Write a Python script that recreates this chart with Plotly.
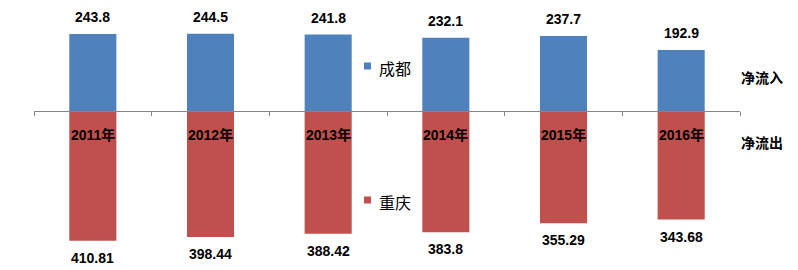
import plotly.graph_objects as go

years = ["2011年", "2012年", "2013年", "2014年", "2015年", "2016年"]
chengdu = [243.8, 244.5, 241.8, 232.1, 237.7, 192.9]
chongqing = [410.81, 398.44, 388.42, 383.8, 355.29, 343.68]
series_names = ["成都", "重庆"]
side_labels = ["净流入", "净流出"]

BLUE = "#4F81BD"
RED = "#C0504D"
NUM_FONT = dict(family="Liberation Sans, Arial, sans-serif", size=14, color="black")
CJK = "Noto Sans CJK SC"

W, H, L, R = 798, 270, 34, 58
PW = W - L - R


def px_x(p):
    return (p - L) / PW


def px_y(p):
    return (H - p) / H


fig = go.Figure()
fig.add_trace(go.Bar(x=years, y=chengdu, name=series_names[0], marker_color=BLUE,
                     marker_line_width=0, showlegend=False))
fig.add_trace(go.Bar(x=years, y=[-v for v in chongqing], name=series_names[1],
                     marker_color=RED, marker_line_width=0, showlegend=False))

ann = []
for x, v in zip(years, chengdu):
    ann.append(dict(x=x, y=v, text=f"<b>{v}</b>", showarrow=False, yshift=17,
                    yanchor="middle", font=NUM_FONT))
for x, v in zip(years, chongqing):
    ann.append(dict(x=x, y=-v, text=f"<b>{v}</b>", showarrow=False, yshift=-17,
                    yanchor="middle", font=NUM_FONT))
for x in years:
    ann.append(dict(x=x, y=0, text=f"<b>{x}</b>", showarrow=False, yshift=-24,
                    yanchor="middle",
                    font=dict(family=f"Liberation Sans, {CJK}", size=14, color="black")))
for lbl, yc in zip(side_labels, [77, 142]):
    ann.append(dict(xref="paper", yref="paper", x=px_x(761.5), y=px_y(yc),
                    text=f"<b>{lbl}</b>", showarrow=False, xanchor="center",
                    yanchor="middle", font=dict(family=CJK, size=14, color="black")))

# legend (swatch + name)
shapes = []
for name, col, yc in zip(series_names, [BLUE, RED], [66, 200]):
    shapes.append(dict(type="rect", xref="paper", yref="paper",
                       x0=px_x(364), x1=px_x(371), y0=px_y(yc + 3.5), y1=px_y(yc - 3.5),
                       fillcolor=col, line_width=0))
    ann.append(dict(xref="paper", yref="paper", x=px_x(377), y=px_y(yc + 2),
                    text=name, showarrow=False, xanchor="left", yanchor="middle",
                    font=dict(family=CJK, size=16, color="black")))

fig.update_layout(
    width=W, height=H,
    margin=dict(l=L, r=R, t=0, b=0),
    barmode="relative",
    bargap=0.6,
    plot_bgcolor="white", paper_bgcolor="white",
    showlegend=False,
    xaxis=dict(anchor="free", position=(H - 111) / H, showline=True,
               linecolor="#868686", linewidth=1, ticks="outside", tickson="boundaries",
               ticklen=4, tickcolor="#868686", showticklabels=False, showgrid=False,
               zeroline=False),
    yaxis=dict(range=[-159 / 0.316, 111 / 0.316], visible=False, showgrid=False,
               zeroline=False),
    annotations=ann,
    shapes=shapes,
)

fig.write_html("out.html")
